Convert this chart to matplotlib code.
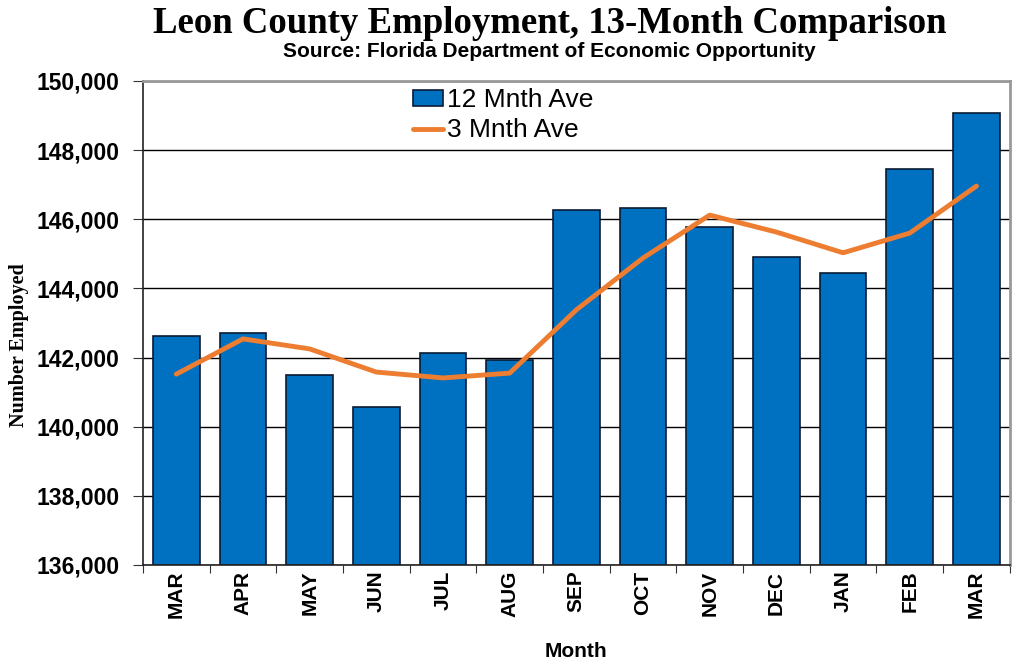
import matplotlib
matplotlib.use("Agg")
import matplotlib.pyplot as plt
from matplotlib.ticker import FuncFormatter

# Data
months = ["MAR", "APR", "MAY", "JUN", "JUL", "AUG", "SEP",
          "OCT", "NOV", "DEC", "JAN", "FEB", "MAR"]
ave_12 = [142620, 142710, 141500, 140570, 142130, 141930, 146270,
          146330, 145780, 144910, 144450, 147460, 149070]
ave_3 = [141520, 142540, 142250, 141580, 141410, 141550, 143380,
         144880, 146120, 145630, 145030, 145600, 146960]

plt.rcParams["font.family"] = ["Liberation Sans", "DejaVu Sans"]

fig = plt.figure(figsize=(10.24, 6.66), dpi=100)
ax = fig.add_axes([0.1396, 0.1517, 0.8465, 0.7267])

x = list(range(len(months)))
bars = ax.bar(x, [v - 136000 for v in ave_12], bottom=136000, width=0.7,
              color="#0070c0", edgecolor="#0a1a33", linewidth=1.2,
              label="12 Mnth Ave", zorder=2)
line, = ax.plot(x, ave_3, color="#ed7d31", linewidth=3.5, label="3 Mnth Ave",
                zorder=3, solid_capstyle="round")

ax.set_xlim(-0.5, len(months) - 0.5)
ax.set_ylim(136000, 150000)
ax.set_yticks(range(136000, 150001, 2000))
ax.yaxis.set_major_formatter(FuncFormatter(lambda v, p: f"{int(v):,}"))
ax.yaxis.grid(True, color="black", linewidth=1.0, zorder=0)
ax.set_axisbelow(True)

# boundary ticks between categories, labels centred on the bars
ax.set_xticks([i - 0.5 for i in range(len(months) + 1)], minor=False)
ax.set_xticklabels([])
ax.set_xticks(x, minor=True)
ax.set_xticklabels(months, minor=True, rotation=90, fontsize=15,
                   fontweight="bold")
ax.tick_params(axis="x", which="minor", length=0, pad=4)
ax.tick_params(axis="x", which="major", length=6, direction="out",
               color="#333333")
ax.tick_params(axis="y", labelsize=16.5, length=7, pad=10, color="#333333")
for lbl in ax.get_yticklabels():
    lbl.set_fontweight("bold")

for side in ["top", "right"]:
    ax.spines[side].set_color("#999999")
    ax.spines[side].set_linewidth(2)
for side in ["left", "bottom"]:
    ax.spines[side].set_color("#222222")
    ax.spines[side].set_linewidth(1.2)

ax.set_xlabel("Month", fontsize=15, fontweight="bold", labelpad=17)
ax.set_ylabel("Number Employed", fontsize=14.5, fontweight="bold",
              family="Liberation Serif")
ax.yaxis.set_label_coords(-0.131, 0.455)

fig.text(0.537, 0.964, "Leon County Employment, 13-Month Comparison",
         ha="center", va="center", fontsize=26.5, fontweight="bold",
         family="Liberation Serif")
fig.text(0.536, 0.922, "Source: Florida Department of Economic Opportunity",
         ha="center", va="center", fontsize=15, fontweight="bold")

ax.legend([bars, line], ["12 Mnth Ave", "3 Mnth Ave"],
          loc="upper left", bbox_to_anchor=(0.296, 1.012), frameon=False,
          fontsize=19, handlelength=1.15, handleheight=0.5,
          handletextpad=0.15, labelspacing=0.22, borderaxespad=0.1)

fig.savefig("out.png", dpi=100)
